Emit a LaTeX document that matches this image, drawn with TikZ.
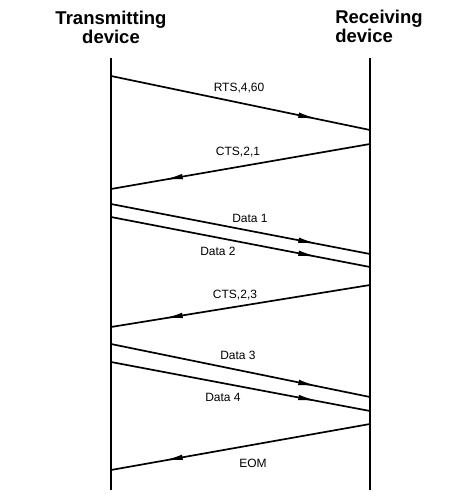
\documentclass[tikz,border=0pt]{standalone}
\usepackage{fontspec}
\setmainfont{Liberation Sans}
\usetikzlibrary{arrows.meta, decorations.markings}
\tikzset{>=latex}
\tikzset{
  device/.style={font=\bfseries\fontsize{18.5}{19}\selectfont, inner sep=0pt},
  lifeline/.style={line width=1.2pt},
  msg/.style={line width=1.7pt, postaction={decorate},
    decoration={markings, mark=at position 0.8 with {\arrow{Latex[length=20pt,width=5.5pt]}}}},
  msglabel/.style={font=\fontsize{12}{14}\selectfont, inner sep=0pt}
}

\begin{document}
\begin{tikzpicture}[x=1pt, y=-1pt]
\useasboundingbox (0,0) rectangle (466,496);

% the two devices
\node[device, align=center] (tx) at (111,27) {Transmitting\\device};
\node[device, align=left] (rx) at (379,26) {Receiving\\device};

\coordinate (ttop) at (111,58);
\coordinate (tbot) at (111,490);
\coordinate (rtop) at (370,58);
\coordinate (rbot) at (370,490);
\draw[lifeline] (ttop) -- (tbot);
\draw[lifeline] (rtop) -- (rbot);

% ends of the frames on the lifelines
\coordinate (t1) at (111,76);  \coordinate (r1) at (370,130);
\coordinate (r2) at (370,144); \coordinate (t2) at (111,189);
\coordinate (t3) at (111,204); \coordinate (r3) at (370,254);
\coordinate (t4) at (111,217); \coordinate (r4) at (370,267);
\coordinate (r5) at (370,285); \coordinate (t5) at (111,327);
\coordinate (t6) at (111,344); \coordinate (r6) at (370,397);
\coordinate (t7) at (111,362); \coordinate (r7) at (370,411);
\coordinate (r8) at (370,424); \coordinate (t8) at (111,470);

\draw[msg] (t1) -- (r1);
\draw[msg] (r2) -- (t2);
\draw[msg] (t3) -- (r3);
\draw[msg] (t4) -- (r4);
\draw[msg] (r5) -- (t5);
\draw[msg] (t6) -- (r6);
\draw[msg] (t7) -- (r7);
\draw[msg] (r8) -- (t8);

% labels
\node[msglabel] (rts) at (239,88) {RTS,4,60};
\node[msglabel] (cts1) at (238,152) {CTS,2,1};
\node[msglabel] (d1) at (250,218) {Data 1};
\node[msglabel] (d2) at (218,251) {Data 2};
\node[msglabel] (cts2) at (235,295) {CTS,2,3};
\node[msglabel] (d3) at (238,355) {Data 3};
\node[msglabel] (d4) at (223,397) {Data 4};
\node[msglabel] (eom) at (253,463) {EOM};
\end{tikzpicture}
\end{document}
